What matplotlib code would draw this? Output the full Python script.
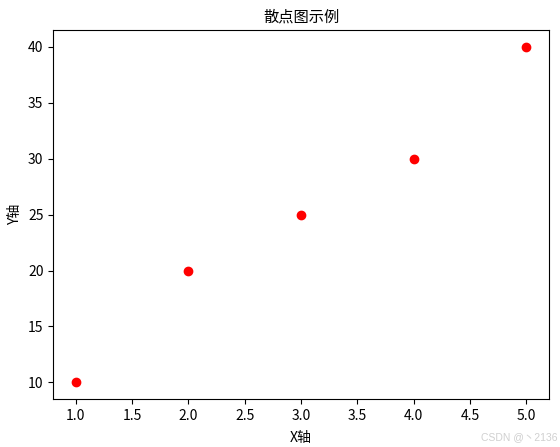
import matplotlib
matplotlib.use('Agg')
import matplotlib.pyplot as plt

plt.rcParams['font.family'] = ['Noto Sans CJK SC', 'DejaVu Sans']
plt.rcParams['axes.unicode_minus'] = False

# data
x = [1, 2, 3, 4, 5]
y = [10, 20, 25, 30, 40]

fig = plt.figure(figsize=(5.6, 4.47), dpi=100)
ax = fig.add_axes([0.095, 0.107, 0.885, 0.826])

ax.scatter(x, y, color='red', s=36)
ax.set_title('散点图示例', fontsize=11)
ax.set_xlabel('X轴', fontsize=10, labelpad=6)
ax.set_ylabel('Y轴', fontsize=10)
ax.tick_params(labelsize=10)

# watermark
fig.text(0.995, 0.012, 'CSDN @丶2136', color='#d0d0d0', fontsize=7.5,
         ha='right', va='bottom', family=['Liberation Sans', 'Noto Sans CJK SC'])

plt.savefig('out.png', dpi=100)
